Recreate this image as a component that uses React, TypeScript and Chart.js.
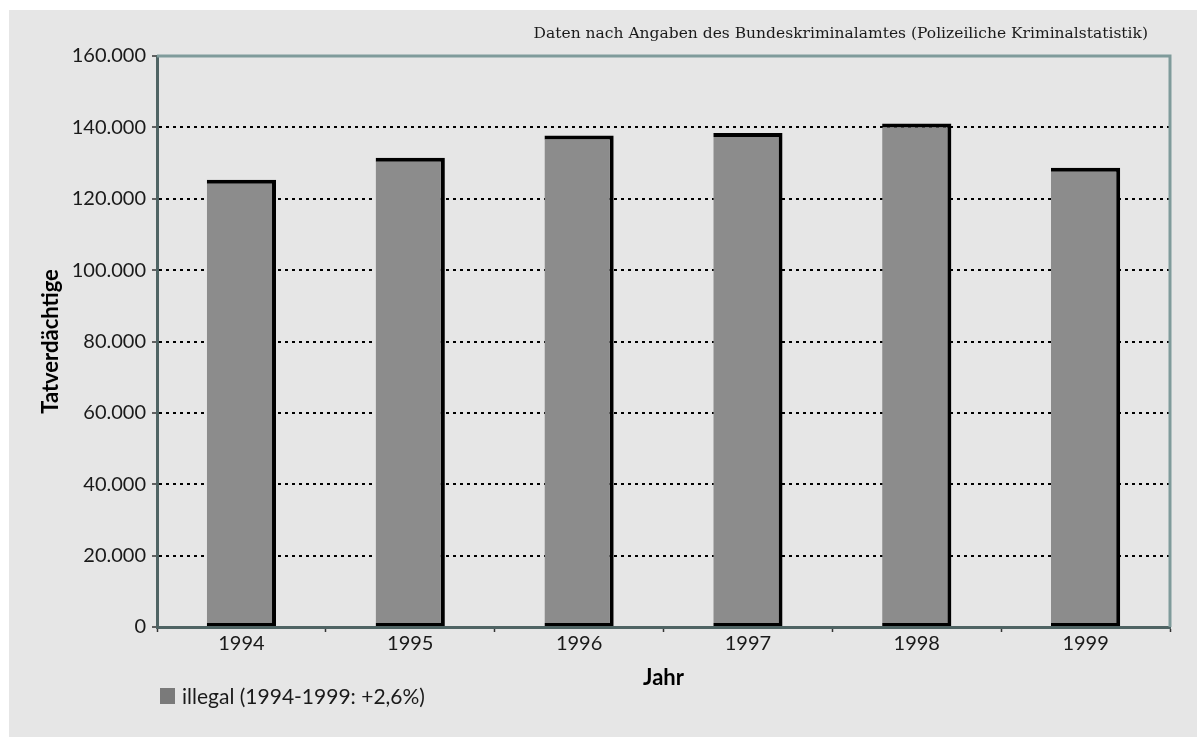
import React, { useEffect, useRef } from "react";
import { Chart, registerables } from "chart.js";

Chart.register(...registerables);

const categories = ["1994", "1995", "1996", "1997", "1998", "1999"];
const illegalValues = [125300, 131500, 137700, 138400, 141100, 128700];
const yTicks = [0, 20000, 40000, 60000, 80000, 100000, 120000, 140000, 160000];
const seriesLabel = "illegal (1994-1999: +2,6%)";
const sourceNote = "Daten nach Angaben des Bundeskriminalamtes (Polizeiliche Kriminalstatistik)";
const yTitle = "Tatverdächtige";
const xTitle = "Jahr";

const fmt = (v: number) => String(v).replace(/\B(?=(\d{3})+(?!\d))/g, ".");

const W = 1188;
const H = 727;

const plotBorder = {
  id: "plotBorder",
  afterDatasetsDraw(chart: any) {
    const { ctx, chartArea } = chart;
    ctx.save();
    ctx.strokeStyle = "#7f9b9b";
    ctx.lineWidth = 3;
    ctx.beginPath();
    ctx.moveTo(chartArea.left, chartArea.top);
    ctx.lineTo(chartArea.right, chartArea.top);
    ctx.lineTo(chartArea.right, chartArea.bottom);
    ctx.stroke();
    ctx.restore();
  },
};

export default function App() {
  const ref = useRef<HTMLCanvasElement | null>(null);

  useEffect(() => {
    document.documentElement.style.overflow = "hidden";
    const canvas = ref.current;
    if (!canvas) return;
    const chart = new Chart(canvas, {
      type: "bar",
      data: {
        labels: categories,
        datasets: [
          {
            label: seriesLabel,
            data: illegalValues,
            backgroundColor: "#8c8c8c",
            borderColor: "#000000",
            borderWidth: { top: 4, right: 4, bottom: 3, left: 0 },
            borderSkipped: false,
            inflateAmount: 0,
            categoryPercentage: 1,
            barPercentage: 0.41,
          },
        ],
      },
      options: {
        animation: false,
        responsive: false,
        devicePixelRatio: 1,
        layout: { padding: { left: 0, top: 46, right: 27, bottom: 30 } },
        plugins: {
          legend: { display: false },
          tooltip: { enabled: false },
          title: { display: false },
        },
        scales: {
          x: {
            afterFit: (s: any) => {
              s.height = 80;
            },
            grid: {
              offset: true,
              drawOnChartArea: false,
              tickLength: 5,
              tickColor: "#333333",
              tickWidth: 1.5,
            },
            border: { display: true, color: "#4f6464", width: 3 },
            ticks: {
              color: "#1a1a1a",
              padding: 0,
              font: { family: "Lato", size: 20 },
            },
            title: {
              display: true,
              text: xTitle,
              color: "#000000",
              font: { family: "Lato", size: 22, weight: "bold" },
              padding: { top: 0, bottom: 16 },
            },
          },
          y: {
            min: 0,
            max: 160000,
            afterFit: (s: any) => {
              s.width = 148;
            },
            afterBuildTicks: (s: any) => {
              s.ticks = yTicks.map((v) => ({ value: v }));
            },
            grid: {
              color: (c: any) =>
                c.tick && (c.tick.value === 0 || c.tick.value === 160000) ? "rgba(0,0,0,0)" : "#000000",
              lineWidth: 2,
              tickLength: 5,
              tickColor: "#333333",
              tickWidth: 1.5,
              tickBorderDash: [],
            },
            border: { display: true, color: "#4f6464", width: 3, dash: [3, 4] },
            ticks: {
              color: "#1a1a1a",
              padding: 6,
              font: { family: "Lato", size: 20 },
              callback: (v: any) => fmt(Number(v)),
            },
            title: {
              display: true,
              text: yTitle,
              color: "#000000",
              font: { family: "Lato", size: 22, weight: "bold" },
              padding: { top: 29, bottom: 0 },
            },
          },
        },
      },
      plugins: [plotBorder],
    } as any);
    return () => chart.destroy();
  }, []);

  return (
    <div
      style={{
        position: "absolute",
        left: 9,
        top: 10,
        width: W,
        height: H,
        background: "#e6e6e6",
        overflow: "hidden",
      }}
    >
      <canvas ref={ref} width={W} height={H} style={{ position: "absolute", left: 0, top: 0, width: W, height: H }} />
      <div
        style={{
          position: "absolute",
          right: 49,
          top: 13,
          fontFamily: "'DejaVu Serif', serif",
          fontSize: 15.5,
          lineHeight: "20px",
          color: "#1a1a1a",
          whiteSpace: "nowrap",
        }}
      >
        {sourceNote}
      </div>
      <div
        style={{
          position: "absolute",
          left: 151,
          top: 674,
          display: "flex",
          alignItems: "center",
          fontFamily: "Lato, sans-serif",
          fontSize: 21,
          lineHeight: "24px",
          color: "#1a1a1a",
          whiteSpace: "nowrap",
        }}
      >
        <span style={{ display: "inline-block", width: 15, height: 16, background: "#7a7a7a", marginRight: 7 }} />
        <span>{seriesLabel}</span>
      </div>
    </div>
  );
}
